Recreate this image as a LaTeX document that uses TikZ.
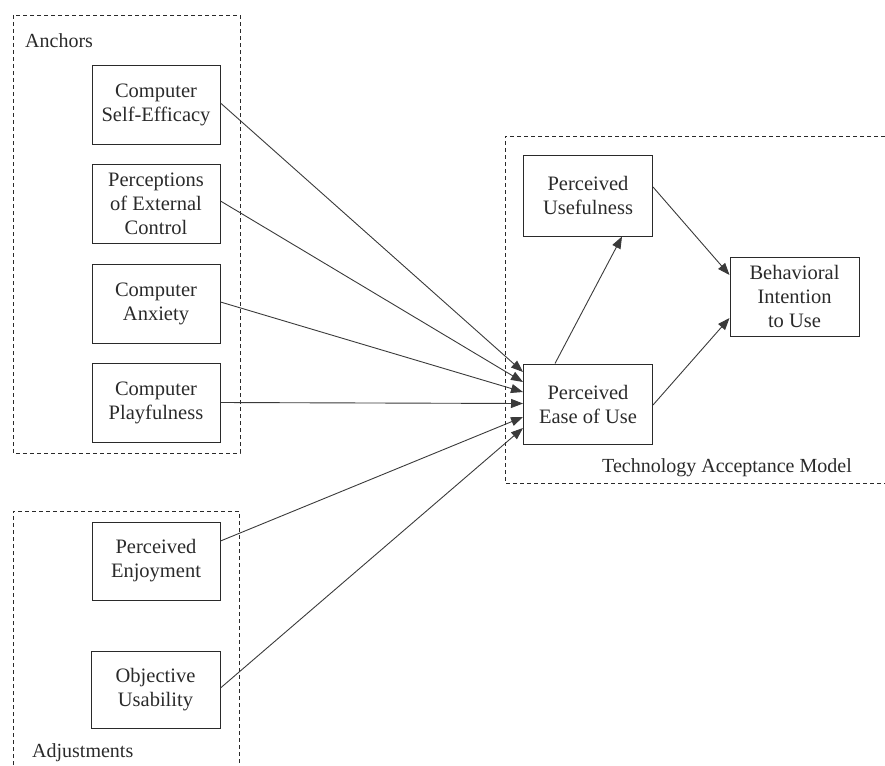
\documentclass[tikz,border=0pt]{standalone}
\usepackage{fontspec}
\setmainfont{Liberation Serif}
\usetikzlibrary{arrows.meta}
\definecolor{ink}{HTML}{2A2A2A}
\definecolor{line}{HTML}{3A3A3A}
\tikzset{
  cbox/.style={draw=ink, line width=1pt, rectangle, align=center, inner sep=0pt,
    font=\fontsize{20.5}{24}\selectfont, text=ink},
  grp/.style={draw=ink, line width=0.9pt, dash pattern=on 4pt off 3pt},
  conn/.style={draw=line, line width=0.9pt, -{Triangle[length=12pt,width=9pt]}},
  lbl/.style={font=\fontsize{20}{24}\selectfont, text=ink, inner sep=0pt}
}
\begin{document}
\begin{tikzpicture}[x=1pt,y=-1pt]
\useasboundingbox (0,0) rectangle (885,765);
% group frames
\draw[grp] (13,15) rectangle (240,453);
\draw[grp] (13,765) -- (13,511) -- (239,511) -- (239,765);
\draw[grp] (885,136) -- (505,136) -- (505,483) -- (885,483);
\node[lbl, anchor=west] (anc) at (25,41) {Anchors};
\node[lbl, anchor=west] (adj) at (32,753) {Adjustments};
\node[lbl] (tam) at (727,468) {Technology Acceptance Model};
% boxes
\node[cbox, minimum width=128pt, minimum height=78pt] (cse) at (156,105) {Computer\\Self-Efficacy};
\node[cbox, minimum width=128pt, minimum height=79pt] (pec) at (156,203.5) {Perceptions\\of External\\Control};
\node[cbox, minimum width=128pt, minimum height=79pt] (ca) at (156,303.5) {Computer\\Anxiety};
\node[cbox, minimum width=128pt, minimum height=79pt] (cp) at (156,402.5) {Computer\\Playfulness};
\node[cbox, minimum width=128pt, minimum height=78pt] (pe) at (156,561) {Perceived\\Enjoyment};
\node[cbox, minimum width=129pt, minimum height=77pt] (ou) at (155.5,689.5) {Objective\\Usability};
\node[cbox, minimum width=129pt, minimum height=81pt] (pu) at (588,195.5) {Perceived\\Usefulness};
\node[cbox, minimum width=129pt, minimum height=80pt] (peou) at (588,404) {Perceived\\Ease of Use};
\node[cbox, minimum width=129pt, minimum height=79pt] (bi) at (794.5,296.5) {Behavioral\\Intention\\to Use};
% connectors into PEOU (canvas yshift: positive = up)
\draw[conn] ([yshift=2pt]cse.east) -- ([yshift=32pt]peou.west);
\draw[conn] ([yshift=2.5pt]pec.east) -- ([yshift=22pt]peou.west);
\draw[conn] ([yshift=1.5pt]ca.east) -- ([yshift=12pt]peou.west);
\draw[conn] (cp.east) -- ([yshift=0.5pt]peou.west);
\draw[conn] ([yshift=20pt]pe.east) -- ([yshift=-13pt]peou.west);
\draw[conn] ([yshift=1.5pt]ou.east) -- ([yshift=-24pt]peou.west);
% TAM connectors
\draw[conn] ([xshift=-33pt]peou.north) -- ([xshift=34pt]pu.south);
\draw[conn] ([yshift=8.5pt]pu.east) -- ([yshift=21.5pt]bi.west);
\draw[conn] ([yshift=-1pt]peou.east) -- ([yshift=-21.5pt]bi.west);
\end{tikzpicture}
\end{document}
